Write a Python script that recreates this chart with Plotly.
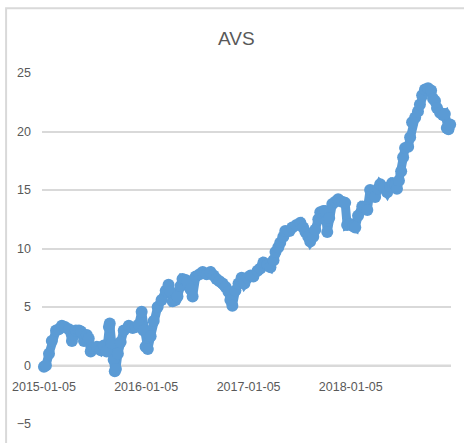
import plotly.graph_objects as go

dates = [
    "2015-01-05", "2015-01-12", "2015-01-23", "2015-02-02", "2015-02-17", "2015-02-27",
    "2015-03-10", "2015-03-21", "2015-04-04", "2015-04-15", "2015-04-22", "2015-04-29",
    "2015-05-10", "2015-05-17", "2015-05-28", "2015-06-07", "2015-06-14", "2015-06-21",
    "2015-07-02", "2015-07-13", "2015-07-27", "2015-08-07", "2015-08-17", "2015-08-25",
    "2015-08-28", "2015-09-04", "2015-09-11", "2015-09-15", "2015-09-19", "2015-09-26",
    "2015-10-06", "2015-10-17", "2015-11-04", "2015-11-18", "2015-11-29", "2015-12-10",
    "2015-12-20", "2015-12-27", "2016-01-03", "2016-01-11", "2016-01-21", "2016-02-01",
    "2016-02-15", "2016-02-29", "2016-03-15", "2016-03-25", "2016-04-01", "2016-04-09",
    "2016-04-19", "2016-04-26", "2016-05-07", "2016-05-14", "2016-05-25", "2016-06-01",
    "2016-06-12", "2016-06-19", "2016-06-30", "2016-07-14", "2016-07-25", "2016-08-08",
    "2016-08-22", "2016-09-02", "2016-09-12", "2016-09-23", "2016-10-04", "2016-10-15",
    "2016-10-25", "2016-11-01", "2016-11-08", "2016-11-19", "2016-11-30", "2016-12-11",
    "2016-12-21", "2017-01-01", "2017-01-12", "2017-01-22", "2017-02-06", "2017-02-16",
    "2017-02-27", "2017-03-13", "2017-03-24", "2017-04-04", "2017-04-11", "2017-04-21",
    "2017-04-28", "2017-05-09", "2017-05-16", "2017-05-31", "2017-06-10", "2017-06-25",
    "2017-07-09", "2017-07-19", "2017-07-27", "2017-08-06", "2017-08-13", "2017-08-24",
    "2017-08-31", "2017-09-11", "2017-09-18", "2017-09-29", "2017-10-06", "2017-10-13",
    "2017-10-20", "2017-10-31", "2017-11-11", "2017-11-21", "2017-12-05", "2017-12-16",
    "2017-12-23", "2018-01-03", "2018-01-14", "2018-01-21", "2018-01-31", "2018-02-15",
    "2018-02-25", "2018-03-05", "2018-03-15", "2018-03-26", "2018-04-02", "2018-04-13",
    "2018-04-20", "2018-05-04", "2018-05-15", "2018-05-26", "2018-06-02", "2018-06-12",
    "2018-06-19", "2018-06-26", "2018-07-04", "2018-07-11", "2018-07-18", "2018-07-29",
    "2018-08-05", "2018-08-12", "2018-08-23", "2018-09-02", "2018-09-09", "2018-09-17",
    "2018-09-27", "2018-10-08", "2018-10-19", "2018-10-26", "2018-11-02", "2018-11-09",
    "2018-11-20", "2018-11-30", "2018-12-07", "2018-12-14", "2018-12-20", "2018-12-26",
]

values = [
    -0.1, 0.0, 1.0, 2.1, 3.0, 3.1,
    3.4, 3.3, 3.1, 2.1, 2.6, 3.0,
    3.0, 2.9, 2.1, 2.6, 2.3, 1.2,
    1.5, 1.6, 1.3, 1.7, 1.2, 3.3,
    3.6, 1.9, 0.5, -0.5, -0.3, 1.0,
    2.0, 3.0, 3.4, 3.2, 3.3, 3.5,
    4.6, 3.0, 1.6, 1.4, 2.5, 3.8,
    5.0, 5.6, 6.4, 6.9, 6.3, 5.5,
    5.6, 5.9, 6.8, 7.4, 7.3, 7.2,
    6.5, 5.9, 7.6, 7.8, 8.0, 7.8,
    8.0, 7.7, 7.4, 7.2, 7.0, 6.7,
    6.3, 5.6, 5.1, 6.4, 7.0, 7.5,
    7.0, 7.5, 7.7, 7.6, 8.1, 8.3,
    8.8, 8.6, 8.4, 9.0, 9.7, 10.1,
    10.5, 11.0, 11.5, 11.5, 11.8, 12.0,
    12.2, 11.8, 11.4, 11.0, 10.6, 11.0,
    11.6, 12.5, 13.1, 13.2, 13.2, 11.4,
    12.6, 13.8, 14.0, 14.2, 14.0, 13.9,
    12.0, 12.1, 11.9, 11.8, 12.8, 13.6,
    13.5, 13.3, 15.0, 14.6, 14.4, 15.1,
    15.5, 15.2, 14.8, 15.3, 15.6, 15.5,
    15.1, 15.8, 16.6, 17.8, 18.6, 18.7,
    19.5, 20.8, 21.2, 21.7, 22.3, 23.1,
    23.6, 23.7, 23.5, 22.8, 22.6, 22.0,
    21.6, 21.4, 21.5, 20.3, 20.2, 20.6,
]

tick_dates = ["2015-01-05", "2016-01-05", "2017-01-05", "2018-01-05"]
y_ticks = [-5, 0, 5, 10, 15, 20, 25]

blue = "#5b9bd5"
grey_text = "#595959"
grid = "#d9d9d9"
font_family = "Liberation Sans, Arial, sans-serif"

fig = go.Figure()
fig.add_trace(go.Scatter(
    x=dates, y=values, mode="lines+markers",
    line=dict(color=blue, width=9),
    marker=dict(color=blue, size=12),
    cliponaxis=False, showlegend=False, hoverinfo="skip",
))

# zero line acting as horizontal axis
fig.add_shape(type="line", xref="paper", yref="y", x0=0, x1=1, y0=0, y1=0,
              line=dict(color=grid, width=2), layer="below")

# chart border
fig.add_shape(type="rect", xref="paper", yref="paper",
              x0=-36 / 410, x1=1.1, y0=-0.1, y1=(426 - 8) / 353,
              line=dict(color="#d9d9d9", width=2), layer="below")

fig.update_layout(
    width=464, height=443,
    margin=dict(l=41, r=13, t=73, b=17),
    paper_bgcolor="white", plot_bgcolor="white",
    font=dict(family=font_family, color=grey_text, size=12.5),
    showlegend=False,
    hovermode=False,
    xaxis=dict(
        type="date",
        range=["2014-12-29", "2018-12-29"],
        tickmode="array", tickvals=tick_dates, ticktext=tick_dates,
        showgrid=False, zeroline=False, showline=False, ticks="",
        anchor="free", position=(426 - 367) / 353,
        tickfont=dict(size=12.5, color=grey_text),
        ticklabelstandoff=12,
    ),
    yaxis=dict(
        range=[-5, 25], tickmode="array", tickvals=y_ticks,
        showgrid=True, gridcolor=grid, gridwidth=2,
        zeroline=False, showline=False, ticks="",
        tickfont=dict(size=12.5, color=grey_text),
        ticklabelstandoff=10,
    ),
    annotations=[dict(
        text="AVS", xref="paper", yref="paper",
        x=(236 - 41) / 410, y=(426 - 38) / 353,
        xanchor="center", yanchor="middle", showarrow=False,
        font=dict(size=19, color=grey_text, family=font_family),
    )],
)

fig.write_html(
    "out.html",
    config={"displayModeBar": False},
    post_script="document.body.style.margin='0';document.body.style.overflow='hidden';",
)
